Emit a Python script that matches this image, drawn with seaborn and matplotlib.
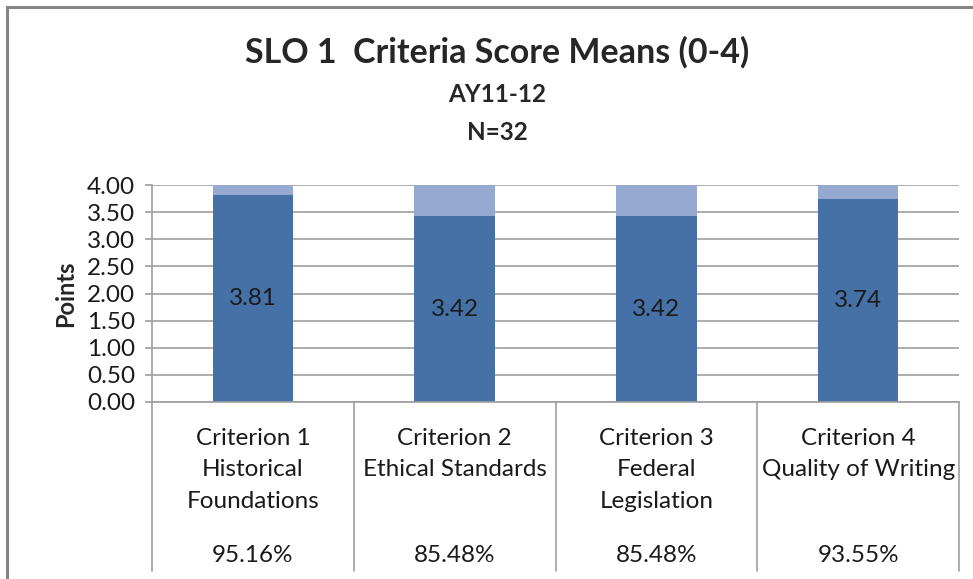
import matplotlib
matplotlib.use("Agg")
import matplotlib.pyplot as plt
import matplotlib.patches as mpatches
import matplotlib.lines as mlines
import matplotlib.transforms as mtransforms
import seaborn as sns
import pandas as pd

# Chart values
criteria = ["Criterion 1\nHistorical\nFoundations",
            "Criterion 2\nEthical Standards\n",
            "Criterion 3\nFederal\nLegislation",
            "Criterion 4\nQuality of Writing\n"]
means = [3.81, 3.42, 3.42, 3.74]
remainder = [0.19, 0.58, 0.58, 0.26]
percents = ["95.16%", "85.48%", "85.48%", "93.55%"]
yticks = [0.0, 0.5, 1.0, 1.5, 2.0, 2.5, 3.0, 3.5, 4.0]

df = pd.DataFrame({"criterion": criteria, "mean": means, "rest": remainder})

sns.set_style("white")
plt.rcParams["font.family"] = ["Lato", "DejaVu Sans"]

W, H = 973, 579
fig = plt.figure(figsize=(W / 100, H / 100), dpi=100)
ax = fig.add_axes([152 / W, (H - 402) / H, (959 - 152) / W, (402 - 185) / H])

dark = "#4571A7"
light = "#95A9D1"
grid = "#9E9E9E"
txt = "#1A1A1A"
fs = 17.5

sns.barplot(data=df, x="criterion", y="mean", color=dark, width=0.4,
            saturation=1, ax=ax, edgecolor="none")
sns.barplot(data=df, x="criterion", y="rest", bottom=df["mean"], color=light,
            width=0.4, saturation=1, ax=ax, edgecolor="none")

ax.set_ylim(0, 4)
ax.set_xlim(-0.5, 3.5)
ax.set_yticks(yticks)
ax.set_yticklabels([f"{v:.2f}" for v in yticks], fontsize=fs, color=txt)
ax.set_xticks([])
ax.set_xlabel("")
ax.set_ylabel("Points", fontsize=17, fontweight="bold", labelpad=7)
ax.yaxis.grid(True, color=grid, lw=1.2)
ax.set_axisbelow(True)
ax.tick_params(axis="y", length=5, color=grid, width=1.2, pad=7, left=True)
for s in ["top", "right", "bottom"]:
    ax.spines[s].set_visible(False)
ax.spines["left"].set_color(grid)
ax.spines["left"].set_linewidth(1.2)

# value labels in the middle of the dark bars
for i, v in enumerate(means):
    ax.text(i, v / 2, f"{v:.2f}", ha="center", va="center", fontsize=fs, color=txt)

# data table under the plot
to_px = lambda y: (H - y) / H
trans = mtransforms.blended_transform_factory(ax.transData, fig.transFigure)
fig.add_artist(mlines.Line2D([152 / W, 959 / W], [to_px(402)] * 2, color=grid, lw=1.2))
for xb in [-0.5, 0.5, 1.5, 2.5, 3.5]:
    ax.add_line(mlines.Line2D([xb, xb], [to_px(402), to_px(571)], transform=trans,
                              color=grid, lw=1.2, clip_on=False))
for i, (lab, pct) in enumerate(zip(criteria, percents)):
    ax.text(i, to_px(470), lab, transform=trans, ha="center", va="center",
            fontsize=fs, linespacing=1.62, color=txt)
    ax.text(i, to_px(555), pct, transform=trans, ha="center", va="center",
            fontsize=fs, color=txt)

# titles
fig.text(497 / W, to_px(52), "SLO 1  Criteria Score Means (0-4)", ha="center",
         va="center", fontsize=24.5, fontweight="bold")
fig.text(497 / W, to_px(95), "AY11-12", ha="center", va="center", fontsize=17.5,
         fontweight="bold")
fig.text(497 / W, to_px(132), "N=32", ha="center", va="center", fontsize=17.5,
         fontweight="bold")

# outer chart border
fig.add_artist(mpatches.Rectangle((7 / W, -0.1), 1.1, to_px(7) + 0.1, fill=False,
                                  edgecolor="#868686", lw=2.2))

fig.savefig("out.png", dpi=100)
